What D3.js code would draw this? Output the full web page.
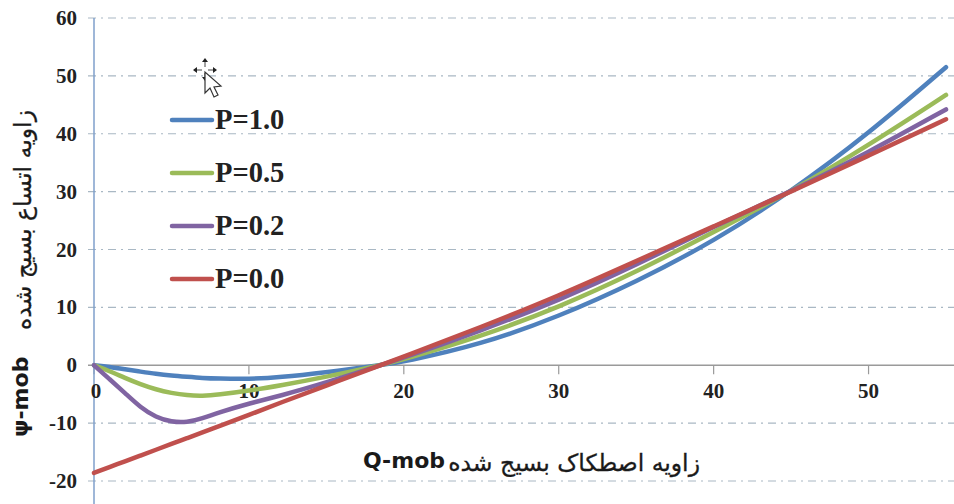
<!DOCTYPE html>
<html>
<head>
<meta charset="utf-8">
<script src="https://cdnjs.cloudflare.com/ajax/libs/d3/7.8.5/d3.min.js"></script>
<style>
  html, body { margin: 0; padding: 0; background: #fff; }
  svg { display: block; }
  .tick-label { font-family: "Liberation Serif", serif; font-weight: bold; font-size: 21px; fill: #222; }
  .legend-label { font-family: "Liberation Serif", serif; font-weight: bold; font-size: 28.5px; fill: #222; }
  .axis-title { font-family: "DejaVu Sans", sans-serif; font-size: 23.5px; fill: #1a1a1a; stroke: #1a1a1a; stroke-width: 0.3; }
  .axis-latin { font-family: "DejaVu Sans", sans-serif; font-weight: bold; font-size: 22px; fill: #1a1a1a; }
</style>
</head>
<body>
<svg id="chart" width="954" height="504"></svg>
<script>
// values
const xTicks = [0, 10, 20, 30, 40, 50];
const yTicks = [60, 50, 40, 30, 20, 10, 0, -10, -20];

const xCurve = [0, 1, 2, 3, 4, 5, 6, 7, 8, 10, 12, 15, 18.5, 20, 25, 30, 35, 40, 45, 50, 55];
const p10 = [0, -0.3, -0.7, -1.1, -1.5, -1.8, -2, -2.2, -2.3, -2.4, -2.1, -1.2, 0, 0.6, 3.6, 8.4, 14.4, 21.4, 30, 40, 51.5];
const p05 = [0, -1, -2.2, -3.3, -4.2, -4.8, -5.2, -5.3, -5.1, -4.4, -3.5, -2, 0, 1, 5, 10, 16.1, 23, 30, 38, 46.7];
const p02 = [0, -2.4, -4.8, -7.3, -9, -9.8, -9.9, -9.2, -8.2, -6.6, -5.3, -3, 0, 1.3, 6, 11.2, 17.3, 24, 30, 36.8, 44.2];
const p00 = [-18.6, -17.6, -16.6, -15.6, -14.6, -13.6, -12.6, -11.6, -10.6, -8.6, -6.5, -3.5, 0, 1.5, 6.6, 12, 18, 24, 30, 36.2, 42.5];

const seriesNames = ["P=1.0", "P=0.5", "P=0.2", "P=0.0"];
const seriesColors = ["#4f81bd", "#9bbb59", "#8064a2", "#c0504d"];
const seriesValues = [p10, p05, p02, p00];

const svg = d3.select("#chart");

const xScale = d3.scaleLinear([0, 55], [94, 946]);
const yScale = d3.scaleLinear([-20, 60], [481, 18]);

// grid lines
svg.append("g").selectAll("line")
  .data(yTicks.filter(d => d != 0))
  .join("line")
    .attr("x1", 88)
    .attr("x2", 954)
    .attr("y1", d => yScale(d))
    .attr("y2", d => yScale(d))
    .attr("stroke", "#a9b8c4")
    .attr("stroke-width", 1.2)
    .attr("stroke-dasharray", "8 5 2 5");

// x axis at zero
svg.append("line")
  .attr("x1", 88).attr("x2", 954)
  .attr("y1", yScale(0)).attr("y2", yScale(0))
  .attr("stroke", "#9a9a9a").attr("stroke-width", 1.3);

svg.append("g").selectAll("line")
  .data(xTicks)
  .join("line")
    .attr("x1", d => xScale(d))
    .attr("x2", d => xScale(d))
    .attr("y1", yScale(0))
    .attr("y2", yScale(0) + 9)
    .attr("stroke", "#9a9a9a")
    .attr("stroke-width", 1.2);

// y axis
svg.append("line")
  .attr("x1", xScale(0)).attr("x2", xScale(0))
  .attr("y1", yScale(60)).attr("y2", 504)
  .attr("stroke", "#7f9fcb").attr("stroke-width", 1.5);

svg.append("g").selectAll("text")
  .data(xTicks)
  .join("text")
    .attr("class", "tick-label")
    .attr("x", d => xScale(d) + (d == 0 ? 2 : 0))
    .attr("y", yScale(0) + 33)
    .attr("text-anchor", "middle")
    .text(d => d);

svg.append("g").selectAll("text")
  .data(yTicks)
  .join("text")
    .attr("class", "tick-label")
    .attr("x", 77)
    .attr("y", d => yScale(d) + 7)
    .attr("text-anchor", "end")
    .text(d => d);

// curves, basis keeps the read-off points from showing as lumps
const line = d3.line()
  .x((d, i) => xScale(xCurve[i]))
  .y(d => yScale(d))
  .curve(d3.curveBasis);

svg.append("g").selectAll("path")
  .data(seriesValues)
  .join("path")
    .attr("d", d => line(d))
    .attr("fill", "none")
    .attr("stroke", (d, i) => seriesColors[i])
    .attr("stroke-width", 4.5)
    .attr("stroke-linecap", "round");

// legend
const legendY = d3.scalePoint(seriesNames, [120, 279]);
const legend = svg.append("g").selectAll("g")
  .data(seriesNames)
  .join("g")
    .attr("transform", d => `translate(0,${legendY(d)})`);

legend.append("line")
  .attr("x1", 172).attr("x2", 212)
  .attr("stroke", (d, i) => seriesColors[i])
  .attr("stroke-width", 4.5)
  .attr("stroke-linecap", "round");

legend.append("text")
  .attr("class", "legend-label")
  .attr("x", 215)
  .attr("y", 9)
  .text(d => d);

// axis titles
svg.append("text")
  .attr("class", "axis-title")
  .attr("x", 700)
  .attr("y", 471)
  .attr("text-anchor", "start")
  .attr("direction", "rtl")
  .text("زاویه اصطکاک بسیج شده");

svg.append("text")
  .attr("class", "axis-latin")
  .attr("x", 363)
  .attr("y", 468)
  .text("Q-mob");

svg.append("text")
  .attr("class", "axis-title")
  .attr("transform", "translate(31,110) rotate(-90)")
  .attr("text-anchor", "start")
  .attr("direction", "rtl")
  .text("زاویه اتساع بسیج شده");

svg.append("text")
  .attr("class", "axis-latin")
  .attr("transform", "translate(28,437) rotate(-90)")
  .text("ψ-mob");

// mouse cursor caught in the screenshot
const cursor = svg.append("g").attr("transform", "translate(205,70)");
cursor.append("path")
  .attr("d", "M0,-12 L3,-8 L-3,-8 Z M0,11 L3,7 L-3,7 Z M-12,0 L-8,-3 L-8,3 Z M12,0 L8,-3 L8,3 Z")
  .attr("fill", "#222");
cursor.append("path")
  .attr("d", "M0,-8 V-3 M0,3 V7 M-8,0 H-3 M3,0 H8")
  .attr("stroke", "#444").attr("stroke-width", 1);
cursor.append("path")
  .attr("d", "M0,2 L0,23 L5,18 L9,27 L13,25 L9,17 L16,16 Z")
  .attr("fill", "#fff").attr("stroke", "#333").attr("stroke-width", 1.2);
</script>
</body>
</html>
